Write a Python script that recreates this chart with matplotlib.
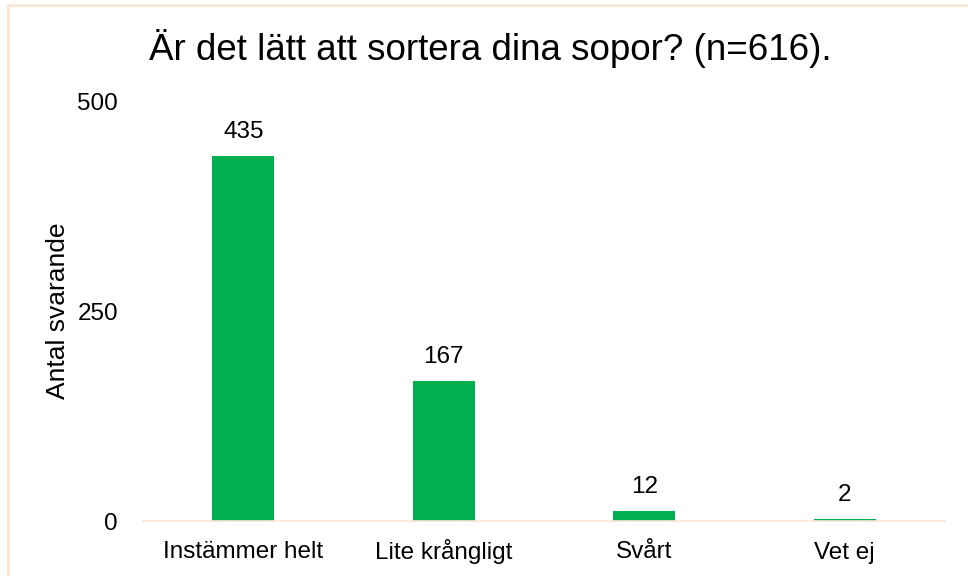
import matplotlib
matplotlib.use("Agg")
import matplotlib.pyplot as plt
from matplotlib.patches import Rectangle

categories = ["Instämmer helt", "Lite krångligt", "Svårt", "Vet ej"]
values = [435, 167, 12, 2]
yticks = [0, 250, 500]

plt.rcParams['font.family'] = ['Liberation Sans', 'DejaVu Sans']

fig = plt.figure(figsize=(9.68, 5.76), dpi=100)
ax = fig.add_axes([143 / 968, 1 - 521 / 576, 802 / 968, 420 / 576])

bars = ax.bar(range(len(categories)), values, width=0.31, color="#00B050")
for b, v in zip(bars, values):
    ax.annotate(str(v), (b.get_x() + b.get_width() / 2, v),
                xytext=(0, 13), textcoords="offset points",
                ha="center", va="baseline", fontsize=17.5)

ax.set_xlim(-0.5, len(categories) - 0.5)
ax.set_ylim(0, 500)
ax.set_yticks(yticks)
ax.set_yticklabels([str(t) for t in yticks], fontsize=17.5)
ax.set_xticks(range(len(categories)))
ax.set_xticklabels(categories, fontsize=17.5)
for lbl in ax.get_xticklabels():
    lbl.set_verticalalignment("baseline")
ax.tick_params(axis="both", length=0)
ax.tick_params(axis="y", pad=18)
ax.tick_params(axis="x", pad=27)
for s in ["top", "right", "left"]:
    ax.spines[s].set_visible(False)
ax.spines["bottom"].set_color("#FBE5D6")
ax.spines["bottom"].set_linewidth(1.2)

ax.set_ylabel("Antal svarande", fontsize=19, labelpad=5)
fig.text(490 / 968, 1 - 48 / 576, "Är det lätt att sortera dina sopor? (n=616).",
         ha="center", va="center", fontsize=26.5)

# outer chart border (light beige)
fig.patches.append(Rectangle((8 / 968, -0.1), 1.2, 1 - 5 / 576 + 0.1,
                             transform=fig.transFigure, fill=False,
                             edgecolor="#FBE5D6", linewidth=2))

fig.savefig("out.png", dpi=100)
